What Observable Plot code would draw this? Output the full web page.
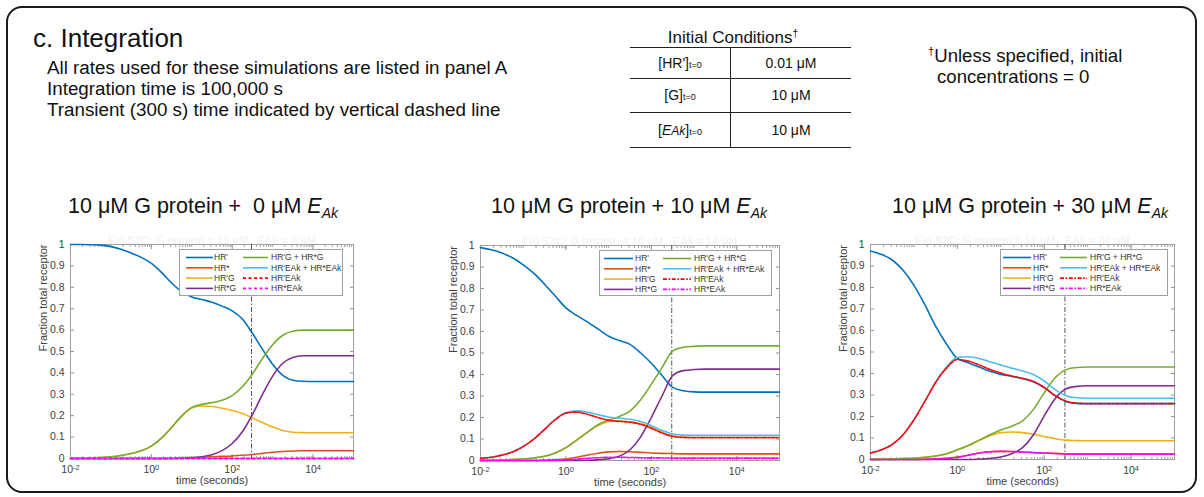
<!DOCTYPE html>
<html><head><meta charset="utf-8">
<script src="https://cdn.jsdelivr.net/npm/d3@7"></script>
<script src="https://cdn.jsdelivr.net/npm/@observablehq/plot@0.6"></script>
<style>
body{margin:0;background:#fff;}
#root{position:relative;width:1204px;height:497px;overflow:hidden;font-family:"Liberation Sans",Arial,Helvetica,sans-serif;color:#111;}
.abs{position:absolute;white-space:nowrap;line-height:1;}
#border{position:absolute;left:6px;top:6px;width:1187px;height:483px;border:2.5px solid #1a1a1a;border-radius:16px;}
.hl{position:absolute;background:#222;}
sub{font-size:0.65em;vertical-align:-0.35em;line-height:0;}
</style></head>
<body><div id="root"><div id="border"></div></div>
<script>
// ---------- text content ----------
const panelTitle = "c. Integration";
const noteLines = ["All rates used for these simulations are listed in panel A", "Integration time is 100,000 s", "Transient (300 s) time indicated by vertical dashed line"];
const tableTitle = "Initial Conditions";
const tableSpecies = ["HR'", "G", "EAk"];
const tableValues = ["0.01 μM", "10 μM", "10 μM"];
const footnoteLines = ["Unless specified, initial", "concentrations = 0"];
const eakLevels = [" 0", "10", "30"];
const ghostTitles = ["Fig S2C: G protein = 10 μM,  EAk = 0 μM", "Fig S2C: G protein = 10 μM,  EAk = 10 μM", "Fig S2C: G protein = 10 μM,  EAk = 30 μM"];
const xLabel = "time (seconds)";
const yLabel = "Fraction total receptor";
const transient = 300;

// ---------- axes ----------
const xDomain = [0.01, 100000];
const xMajor = [0.01, 1, 100, 10000];
const xTickLabels = ["10^-2", "10^0", "10^2", "10^4"];
const yTicks = [0, 0.1, 0.2, 0.3, 0.4, 0.5, 0.6, 0.7, 0.8, 0.9, 1];
const yTickLabels = ["0", "0.1", "0.2", "0.3", "0.4", "0.5", "0.6", "0.7", "0.8", "0.9", "1"];

// ---------- series ----------
const seriesNames = ["HR'", "HR*", "HR'G", "HR*G", "HR'G + HR*G", "HR'EAk + HR*EAk", "HR'EAk", "HR*EAk"];
const seriesColors = ["#0072BD", "#D95319", "#EDB120", "#7E2F8E", "#77AC30", "#4DBEEE", "#FF0000", "#FF00FF"];

const times = [0.01, 0.0178, 0.0316, 0.0562, 0.1, 0.178, 0.316, 0.562, 1, 1.78, 3.16, 5.62, 10, 17.8, 31.6, 56.2, 100, 178, 316, 562, 1000, 1778, 3162, 5623, 10000, 17783, 31623, 56234, 100000];

// 10 uM G + 0 uM EAk
const hrP_0  = [1.0,1.0,0.999,0.997,0.99,0.978,0.96,0.94,0.912,0.87,0.82,0.78,0.755,0.743,0.73,0.712,0.69,0.652,0.585,0.51,0.44,0.388,0.366,0.361,0.36,0.36,0.36,0.36,0.36];
const hrS_0  = [0,0,0,0,0,0,0,0,0,0,0.001,0.002,0.004,0.006,0.008,0.01,0.012,0.015,0.019,0.024,0.029,0.033,0.035,0.036,0.036,0.036,0.036,0.036,0.036];
const hrPG_0 = [0,0.001,0.002,0.004,0.008,0.014,0.023,0.036,0.058,0.095,0.145,0.198,0.236,0.245,0.243,0.235,0.224,0.21,0.19,0.168,0.147,0.131,0.123,0.121,0.12,0.12,0.12,0.12,0.12];
const hrSG_0 = [0,0,0,0,0,0,0,0,0,0,0,0.001,0.003,0.008,0.018,0.037,0.07,0.125,0.205,0.3,0.385,0.445,0.472,0.48,0.48,0.48,0.48,0.48,0.48];
const gTot_0 = [0,0.001,0.002,0.004,0.008,0.014,0.023,0.036,0.058,0.095,0.145,0.199,0.239,0.253,0.261,0.272,0.294,0.335,0.395,0.468,0.532,0.576,0.595,0.6,0.6,0.6,0.6,0.6,0.6];
const eTot_0 = [0,0,0,0,0,0,0,0,0,0,0,0,0,0,0,0,0,0,0,0,0,0,0,0,0,0,0,0,0];
const hrPE_0 = [0,0,0,0,0,0,0,0,0,0,0,0,0,0,0,0,0,0,0,0,0,0,0,0,0,0,0,0,0];
const hrSE_0 = [0,0,0,0,0,0,0,0,0,0,0,0,0,0,0,0,0,0,0,0,0,0,0,0,0,0,0,0,0];

// 10 uM G + 10 uM EAk
const hrP_1  = [0.99,0.98,0.965,0.943,0.91,0.87,0.82,0.765,0.71,0.675,0.645,0.612,0.578,0.558,0.54,0.5,0.452,0.395,0.34,0.324,0.319,0.318,0.318,0.318,0.318,0.318,0.318,0.318,0.318];
const hrS_1  = [0,0,0,0,0,0,0.001,0.003,0.007,0.015,0.025,0.034,0.04,0.042,0.041,0.038,0.035,0.033,0.032,0.031,0.031,0.031,0.031,0.031,0.031,0.031,0.031,0.031,0.031];
const hrPG_1 = [0,0.001,0.002,0.004,0.007,0.012,0.02,0.035,0.06,0.095,0.13,0.163,0.18,0.185,0.18,0.172,0.155,0.132,0.115,0.109,0.108,0.108,0.108,0.108,0.108,0.108,0.108,0.108,0.108];
const hrSG_1 = [0,0,0,0,0,0,0,0,0,0,0.001,0.003,0.008,0.02,0.05,0.11,0.2,0.3,0.395,0.418,0.423,0.425,0.425,0.425,0.425,0.425,0.425,0.425,0.425];
const gTot_1 = [0,0.001,0.002,0.004,0.007,0.012,0.02,0.035,0.06,0.095,0.131,0.166,0.188,0.205,0.23,0.282,0.355,0.432,0.51,0.527,0.531,0.533,0.533,0.533,0.533,0.533,0.533,0.533,0.533];
const eTot_1 = [0.01,0.015,0.025,0.04,0.065,0.1,0.145,0.191,0.223,0.231,0.225,0.213,0.202,0.197,0.192,0.181,0.162,0.14,0.123,0.118,0.117,0.117,0.117,0.117,0.117,0.117,0.117,0.117,0.117];
const hrPE_1 = [0.01,0.015,0.025,0.04,0.065,0.1,0.145,0.19,0.22,0.225,0.215,0.2,0.187,0.182,0.178,0.168,0.15,0.128,0.112,0.107,0.106,0.106,0.106,0.106,0.106,0.106,0.106,0.106,0.106];
const hrSE_1 = [0,0,0,0,0,0,0,0.001,0.003,0.006,0.01,0.013,0.015,0.015,0.014,0.013,0.012,0.012,0.011,0.011,0.011,0.011,0.011,0.011,0.011,0.011,0.011,0.011,0.011];

// 10 uM G + 30 uM EAk
const hrP_2  = [0.97,0.954,0.928,0.88,0.81,0.72,0.62,0.537,0.47,0.45,0.43,0.41,0.396,0.387,0.377,0.362,0.335,0.298,0.27,0.261,0.26,0.26,0.26,0.26,0.26,0.26,0.26,0.26,0.26];
const hrS_2  = [0,0,0,0,0,0.001,0.003,0.006,0.012,0.02,0.03,0.036,0.038,0.037,0.035,0.032,0.03,0.028,0.026,0.025,0.025,0.025,0.025,0.025,0.025,0.025,0.025,0.025,0.025];
const hrPG_2 = [0,0.001,0.002,0.004,0.006,0.01,0.016,0.027,0.045,0.065,0.088,0.11,0.125,0.128,0.125,0.118,0.107,0.097,0.09,0.088,0.087,0.087,0.087,0.087,0.087,0.087,0.087,0.087,0.087];
const hrSG_2 = [0,0,0,0,0,0,0,0,0,0,0.002,0.005,0.012,0.027,0.055,0.114,0.203,0.283,0.328,0.34,0.343,0.343,0.343,0.343,0.343,0.343,0.343,0.343,0.343];
const gTot_2 = [0,0.001,0.002,0.004,0.006,0.01,0.016,0.027,0.045,0.065,0.09,0.115,0.137,0.155,0.18,0.232,0.31,0.38,0.418,0.428,0.43,0.43,0.43,0.43,0.43,0.43,0.43,0.43,0.43];
const eTot_2 = [0.03,0.045,0.07,0.115,0.185,0.27,0.36,0.43,0.475,0.478,0.47,0.455,0.44,0.425,0.412,0.395,0.365,0.325,0.297,0.287,0.285,0.285,0.285,0.285,0.285,0.285,0.285,0.285,0.285];
const hrPE_2 = [0.03,0.045,0.07,0.115,0.185,0.27,0.358,0.425,0.465,0.458,0.44,0.419,0.402,0.388,0.377,0.363,0.335,0.297,0.271,0.262,0.26,0.26,0.26,0.26,0.26,0.26,0.26,0.26,0.26];
const hrSE_2 = [0,0,0,0,0,0,0.002,0.005,0.01,0.02,0.03,0.036,0.038,0.037,0.035,0.032,0.03,0.028,0.026,0.025,0.025,0.025,0.025,0.025,0.025,0.025,0.025,0.025,0.025];

const chartSeries = [
  [hrP_0, hrS_0, hrPG_0, hrSG_0, gTot_0, eTot_0, hrPE_0, hrSE_0],
  [hrP_1, hrS_1, hrPG_1, hrSG_1, gTot_1, eTot_1, hrPE_1, hrSE_1],
  [hrP_2, hrS_2, hrPG_2, hrSG_2, gTot_2, eTot_2, hrPE_2, hrSE_2]
];

// ---------- layout (positions only) ----------
const frames = [
  {L: 70, R: 353, T: 244, B: 458, titleX: 203, legend: {x: 179, y: 249, w: 163, h: 46, c1: 7, l1: 27, t1: 35, c2: 64, l2: 25, t2: 92}, dash: "3,2.5"},
  {L: 480, R: 779, T: 245, B: 460, titleX: 629, legend: {x: 599, y: 250, w: 172, h: 45, c1: 5, l1: 29, t1: 36, c2: 64, l2: 28, t2: 95}, dash: "4,1.6,1.6,1.6"},
  {L: 870, R: 1174, T: 244, B: 459, titleX: 1030, legend: {x: 1000, y: 249, w: 167, h: 46, c1: 3, l1: 28, t1: 33, c2: 60, l2: 27, t2: 90}, dash: "4,1.6,1.6,1.6"}
];

const root = document.getElementById("root");
function addDiv(html, style) {
  const d = document.createElement("div");
  d.className = "abs";
  d.innerHTML = html;
  Object.assign(d.style, style);
  root.appendChild(d);
  return d;
}
function addLine(x, y, w, h) {
  const d = document.createElement("div");
  d.className = "hl";
  Object.assign(d.style, {left: x + "px", top: y + "px", width: w + "px", height: h + "px"});
  root.appendChild(d);
}

// header texts
addDiv(panelTitle, {left: "33px", top: "25px", fontSize: "26px"});
noteLines.forEach((t, i) => addDiv(t, {left: "47px", top: (59 + 21 * i) + "px", fontSize: "18.8px"}));

// table
addDiv(tableTitle + "<sup style='font-size:0.6em;vertical-align:0.6em;line-height:0'>†</sup>", {left: "633px", width: "200px", textAlign: "center", top: "28.5px", fontSize: "17px"});
addLine(630, 46.5, 221, 1.6);
addLine(630, 77.5, 221, 1.4);
addLine(630, 111.5, 221, 1.4);
addLine(630, 146.5, 221, 1.6);
addLine(729.5, 46.5, 1.6, 101);
const rowCenters = [62.5, 95, 129.5];
tableSpecies.forEach((s, i) => {
  const lab = s === "EAk" ? "<i>E</i><i style='font-size:12px'>Ak</i>" : s;
  addDiv("[" + lab + "]<span style='font-size:9px'>t=0</span>", {left: "630px", width: "100px", textAlign: "center", top: (rowCenters[i] - 7) + "px", fontSize: "14px"});
  addDiv(tableValues[i], {left: "731px", width: "120px", textAlign: "center", top: (rowCenters[i] - 7) + "px", fontSize: "14px"});
});
addDiv("<sup style='font-size:0.6em;vertical-align:0.6em;line-height:0'>†</sup>" + footnoteLines[0], {left: "928px", top: "47px", fontSize: "18.6px"});
addDiv(footnoteLines[1], {left: "937px", top: "68px", fontSize: "18.6px"});

// charts
const ML = 55, MR = 12, MT = 16, MB = 36;
const xMinor = d3.scaleLog().domain(xDomain).ticks();

frames.forEach((f, ci) => {
  // subplot title
  addDiv("10 μM G protein + " + eakLevels[ci].replace(" ", "&nbsp;") + " μM <i>E</i><sub><i>Ak</i></sub>",
    {left: (f.titleX - 200) + "px", width: "400px", textAlign: "center", top: "196px", fontSize: "21.5px"});

  const vals = chartSeries[ci];
  const lines = vals.map((v, si) => Plot.line(times, {
    x: times, y: v, stroke: seriesColors[si], strokeWidth: 1.6,
    strokeDasharray: si >= 6 ? f.dash : undefined, curve: "monotone-x"
  }));
  const W = f.R - f.L + ML + MR, H = f.B - f.T + MT + MB;
  const svg = Plot.plot({
    width: W, height: H,
    marginLeft: ML, marginRight: MR, marginTop: MT, marginBottom: MB,
    x: {type: "log", domain: xDomain},
    y: {domain: [0, 1]},
    style: {fontFamily: "'Liberation Sans', Arial, sans-serif", fontSize: "10.5px", color: "#404040", background: "transparent", overflow: "visible"},
    marks: [
      Plot.text([ghostTitles[ci]], {text: d => d, frameAnchor: "top", dy: -8, fill: "#f4f4f4", fontWeight: "bold", fontSize: 11}),
      Plot.axisY({ticks: yTicks, tickSize: 0, tickPadding: 6, tickFormat: d => yTickLabels[yTicks.indexOf(d)], label: null}),
      Plot.axisY({ticks: yTicks, tickSize: -4, tickFormat: () => "", label: null, stroke: "#909090"}),
      Plot.axisY({ticks: yTicks, tickSize: -4, tickFormat: () => "", anchor: "right", label: null, stroke: "#909090"}),
      Plot.axisX({ticks: xMajor, tickSize: 0, tickPadding: 7, tickFormat: d => xTickLabels[xMajor.indexOf(d)], label: null}),
      Plot.axisX({ticks: xMajor, tickSize: -4, tickFormat: () => "", label: null, stroke: "#909090"}),
      Plot.axisX({ticks: xMajor, tickSize: -4, tickFormat: () => "", anchor: "top", label: null, stroke: "#909090"}),
      Plot.axisX({ticks: xMinor, tickSize: -2, tickFormat: () => "", label: null, stroke: "#a0a0a0"}),
      Plot.axisX({ticks: xMinor, tickSize: -2, tickFormat: () => "", anchor: "top", label: null, stroke: "#a0a0a0"}),
      Plot.frame({stroke: "#a0a0a0"}),
      Plot.ruleX([transient], {stroke: "#555", strokeWidth: 1, strokeDasharray: "5,2,1.5,2"}),
      ...lines,
      Plot.text([yLabel], {text: d => d, frameAnchor: "left", dx: -27, rotate: -90, fontSize: 11, fill: "#404040"}),
      Plot.text([xLabel], {text: d => d, frameAnchor: "bottom", dy: 25, fontSize: 11, fill: "#404040"})
    ]
  });
  // superscripts for log tick labels
  d3.select(svg).selectAll('g[aria-label="x-axis tick label"] text').each(function () {
    const s = this.textContent;
    if (s.includes("^")) {
      const [b, e] = s.split("^");
      this.textContent = b;
      d3.select(this).append("tspan").attr("dy", "-0.45em").attr("font-size", "7.5px").text(e);
    }
  });
  const wrap = document.createElement("div");
  Object.assign(wrap.style, {position: "absolute", left: (f.L - ML) + "px", top: (f.T - MT) + "px"});
  wrap.appendChild(svg);
  root.appendChild(wrap);

  // legend
  const lg = f.legend;
  const ls = d3.select(root).append("svg")
    .style("position", "absolute").style("left", lg.x + "px").style("top", lg.y + "px")
    .attr("width", lg.w + 1).attr("height", lg.h + 1);
  ls.append("rect").attr("x", 0.5).attr("y", 0.5).attr("width", lg.w).attr("height", lg.h)
    .attr("fill", "#fff").attr("stroke", "#a0a0a0");
  seriesNames.forEach((name, si) => {
    const col = si < 4 ? 0 : 1;
    const row = si % 4;
    const y = 8.5 + row * 10.3;
    const x0 = col === 0 ? lg.c1 : lg.c2, len = col === 0 ? lg.l1 : lg.l2, tx = col === 0 ? lg.t1 : lg.t2;
    ls.append("line").attr("x1", x0).attr("x2", x0 + len).attr("y1", y).attr("y2", y)
      .attr("stroke", seriesColors[si]).attr("stroke-width", 1.6)
      .attr("stroke-dasharray", si >= 6 ? f.dash : null);
    ls.append("text").attr("x", tx).attr("y", y).attr("dy", "0.35em")
      .attr("font-family", "'Liberation Sans', Arial, sans-serif").attr("font-size", 8.5).attr("fill", "#333")
      .text(name);
  });
});
</script></body></html>
